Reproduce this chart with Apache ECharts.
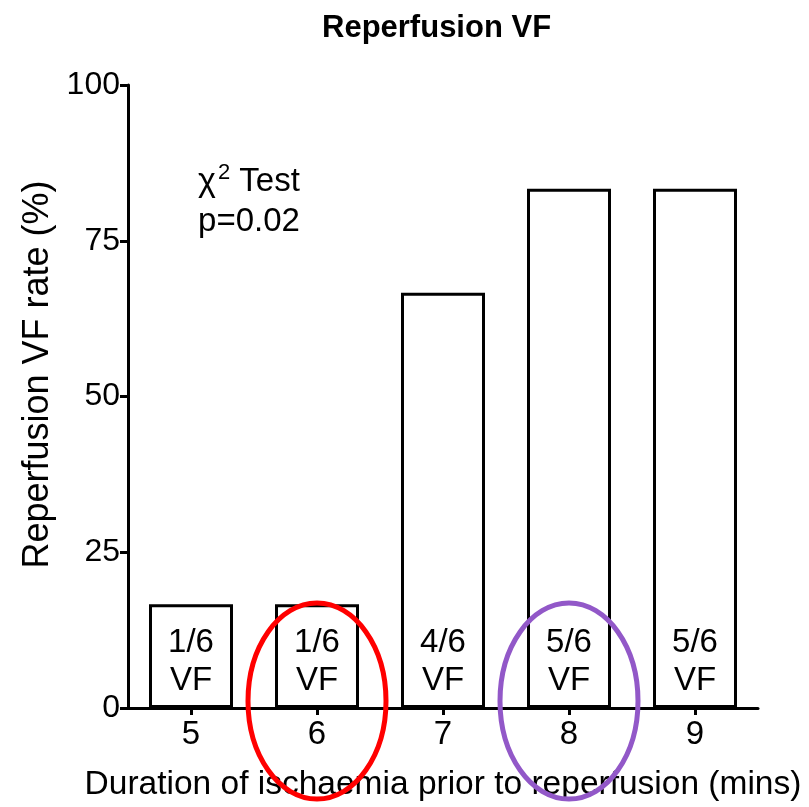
<!DOCTYPE html>
<html>
<head>
<meta charset="utf-8">
<script src="https://cdn.jsdelivr.net/npm/echarts@6/dist/echarts.min.js"></script>
<style>
html,body{margin:0;padding:0;background:#fff;}
#chart{width:809px;height:807px;}
</style>
</head>
<body>
<div id="chart"></div>
<script>
// Data
var categories = ['5', '6', '7', '8', '9'];
var vfRate = [16.67, 16.67, 66.67, 83.33, 83.33];
var vfCounts = ['1/6', '1/6', '4/6', '5/6', '5/6'];
var yTicks = [0, 25, 50, 75, 100];
var highlighted = [{cat: '6', color: '#ff0000'}, {cat: '8', color: '#9258c8'}];

var FONT = "'Liberation Sans', Arial, Helvetica, sans-serif";
var chart = echarts.init(document.getElementById('chart'), null, {renderer: 'canvas'});

var option = {
  backgroundColor: '#ffffff',
  animation: false,
  title: {
    text: 'Reperfusion VF',
    left: 322,
    top: 13,
    padding: 0,
    textStyle: {fontFamily: FONT, fontSize: 31, fontWeight: 'bold', color: '#000'}
  },
  grid: {left: 128, right: 51, top: 85, bottom: 96, containLabel: false},
  xAxis: {
    type: 'category',
    data: categories,
    boundaryGap: true,
    name: 'Duration of ischaemia prior to reperfusion (mins)',
    nameLocation: 'middle',
    nameGap: 60,
    nameTextStyle: {fontFamily: FONT, fontSize: 33.5, color: '#000'},
    axisLine: {show: true, lineStyle: {color: '#000', width: 3}},
    axisTick: {show: true, alignWithLabel: true, length: 7, lineStyle: {color: '#000', width: 3}},
    axisLabel: {fontFamily: FONT, fontSize: 33, color: '#000', margin: 10},
    splitLine: {show: false}
  },
  yAxis: {
    type: 'value',
    min: yTicks[0],
    max: yTicks[yTicks.length - 1],
    interval: 25,
    name: 'Reperfusion VF rate (%)',
    nameLocation: 'middle',
    nameGap: 70,
    nameTextStyle: {fontFamily: FONT, fontSize: 36, color: '#000', padding: [0, 0, 0, 44]},
    axisLine: {show: true, lineStyle: {color: '#000', width: 3}},
    axisTick: {show: true, length: 8, lineStyle: {color: '#000', width: 3}},
    axisLabel: {fontFamily: FONT, fontSize: 32, color: '#000', margin: 8},
    splitLine: {show: false}
  },
  series: [{
    type: 'bar',
    data: vfRate,
    barWidth: 84,
    itemStyle: {color: '#ffffff', borderColor: '#000', borderWidth: 3},
    label: {
      show: true,
      position: 'insideBottom',
      distance: 8,
      fontFamily: FONT,
      fontSize: 33,
      lineHeight: 38,
      color: '#000',
      formatter: function (p) { return vfCounts[p.dataIndex] + '\nVF'; }
    }
  }],
  graphic: [{
    type: 'text',
    x: 249,
    y: 162,
    style: {
      text: '{c|χ}{s|2}{n| Test}\n{n|p=0.02}',
      align: 'center',
      verticalAlign: 'top',
      rich: {
        c: {fontFamily: FONT, fontSize: 34, lineHeight: 40, fill: '#000'},
        s: {fontFamily: FONT, fontSize: 22, lineHeight: 40, verticalAlign: 'top', padding: [0, 0, 14, 2], fill: '#000'},
        n: {fontFamily: FONT, fontSize: 33, lineHeight: 40, fill: '#000'}
      }
    }
  }]
};
chart.setOption(option);

// Highlight ellipses around selected categories, positioned via the axis scales
var ellipses = highlighted.map(function (h) {
  var pt = chart.convertToPixel({xAxisIndex: 0, yAxisIndex: 0}, [h.cat, 0]);
  return {
    type: 'ellipse',
    shape: {cx: pt[0], cy: pt[1] - 7, rx: 69, ry: 98},
    style: {fill: 'none', stroke: h.color, lineWidth: 5},
    z: 100
  };
});
chart.setOption({graphic: option.graphic.concat(ellipses)});
</script>
</body>
</html>
